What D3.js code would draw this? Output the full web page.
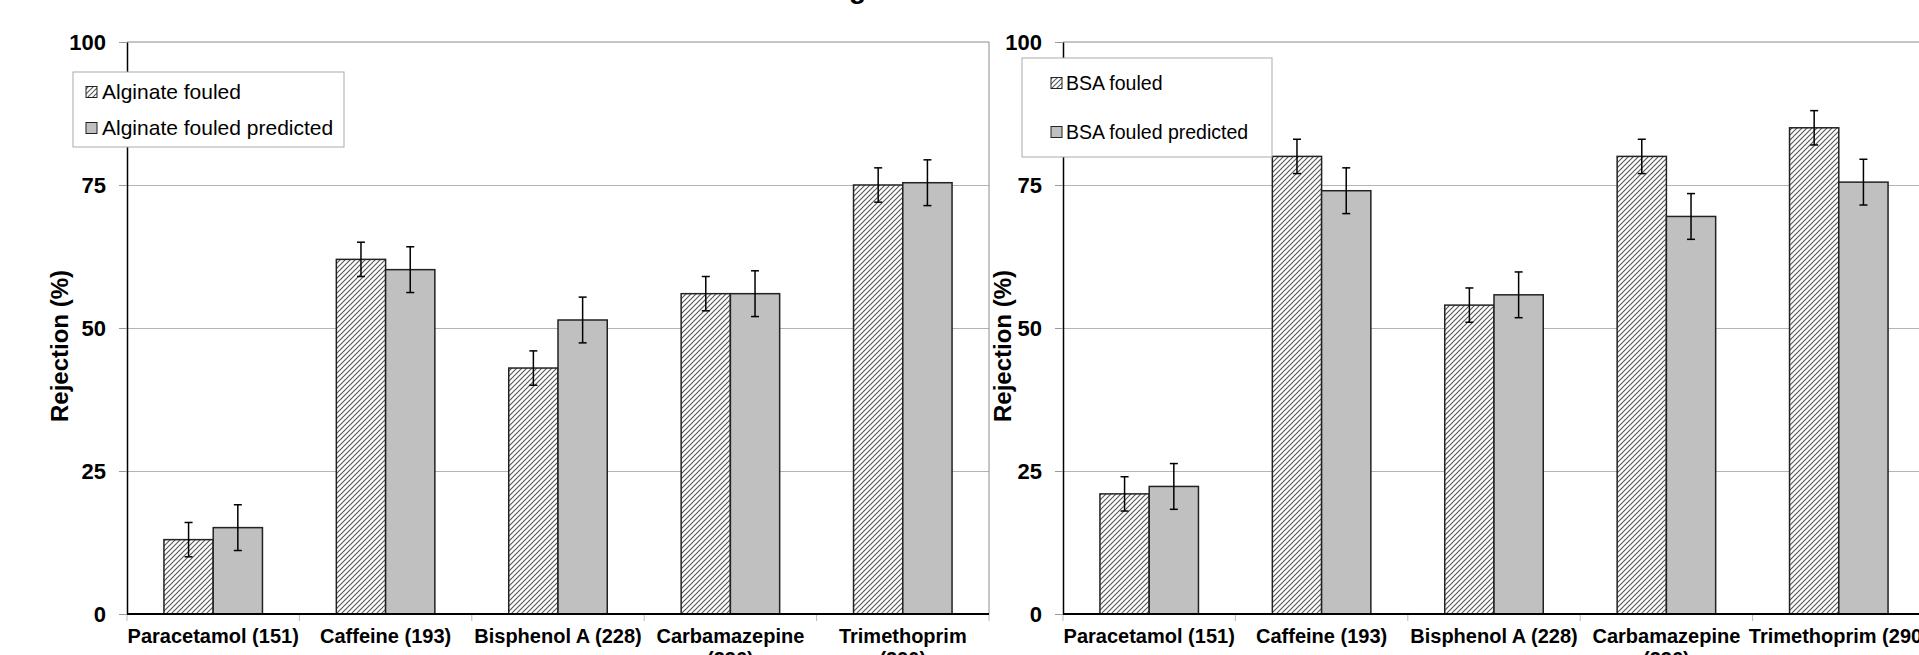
<!DOCTYPE html>
<html>
<head>
<meta charset="utf-8">
<script src="https://cdn.jsdelivr.net/npm/d3@7"></script>
<style>
  body { margin: 0; background: #fff; }
  svg { display: block; font-family: "Liberation Sans", Arial, sans-serif; }
</style>
</head>
<body>
<svg width="1919" height="655"></svg>
<script>
const svg = d3.select("svg");

// DATA
const categories = ["Paracetamol (151)", "Caffeine (193)", "Bisphenol A (228)", "Carbamazepine (236)", "Trimethoprim (290)"];
const yTicks = [0, 25, 50, 75, 100];

const alginateFouled = [13, 62, 43, 56, 75];
const alginatePredicted = [15.1, 60.2, 51.4, 56, 75.4];
const alginateFouledErr = [3, 3, 3, 3, 3];
const alginatePredictedErr = [4, 4, 4, 4, 4];

const bsaFouled = [21, 80, 54, 80, 85];
const bsaPredicted = [22.3, 74, 55.8, 69.5, 75.5];
const bsaFouledErr = [3, 3, 3, 3, 3];
const bsaPredictedErr = [4, 4, 4, 4, 4];

// CONSTANTS
const plotTop = 42;
const plotBottom = 614;
const plotWidth = 862;

const charts = [
  {
    left: 127, titleX: 60,
    names: ["Alginate fouled", "Alginate fouled predicted"],
    values: [alginateFouled, alginatePredicted],
    errors: [alginateFouledErr, alginatePredictedErr],
    wrapped: [3, 4],
    legend: { x: 73, y: 72, w: 271, h: 75, rows: [92, 128], swatchX: 13, textX: 29, font: 21 },
    rightBorder: true
  },
  {
    left: 1063, titleX: 1003,
    names: ["BSA fouled", "BSA fouled predicted"],
    values: [bsaFouled, bsaPredicted],
    errors: [bsaFouledErr, bsaPredictedErr],
    wrapped: [3],
    legend: { x: 1022, y: 58, w: 250, h: 99, rows: [83, 132], swatchX: 29, textX: 44, font: 19.5 },
    rightBorder: false
  }
];

// hatch pattern
const defs = svg.append("defs");
defs.append("pattern")
  .attr("id", "hatch")
  .attr("patternUnits", "userSpaceOnUse")
  .attr("width", 5).attr("height", 5)
  .call(p => p.append("rect").attr("width", 5).attr("height", 5).attr("fill", "#fff"))
  .append("path")
  .attr("d", "M-1,1 l2,-2 M0,5 l5,-5 M4,6 l2,-2")
  .attr("stroke", "#5a5a5a")
  .attr("stroke-width", 1.2);

const fills = ["url(#hatch)", "#c0c0c0"];

const yScale = d3.scaleLinear().domain([0, 100]).range([plotBottom, plotTop]);

// cut-off title above the charts
svg.append("text")
  .attr("x", 866).attr("y", -2)
  .attr("text-anchor", "end")
  .attr("font-size", 28).attr("font-weight", "bold")
  .text("Fouling");

function render(chart) {
  const x0 = chart.left, x1 = chart.left + plotWidth;
  const xScale = d3.scaleBand().domain(categories).range([x0, x1]);
  const barW = xScale.bandwidth() / 3.5;
  const series = d3.scaleBand().domain([0, 1]).range([-barW, barW]);

  const g = svg.append("g");

  // gridlines
  g.append("g")
    .attr("transform", `translate(${x0},0)`)
    .call(d3.axisLeft(yScale).tickValues([25, 50, 75]).tickSize(-plotWidth).tickFormat(""))
    .call(a => a.select(".domain").remove())
    .selectAll("line").attr("stroke", "#b4b4b4");

  // plot frame (top / right)
  g.append("line").attr("x1", x0).attr("x2", x1)
    .attr("y1", yScale(100)).attr("y2", yScale(100))
    .attr("stroke", "#8c8c8c");
  if (chart.rightBorder) {
    g.append("line").attr("x1", x1).attr("x2", x1)
      .attr("y1", yScale(100)).attr("y2", yScale(0))
      .attr("stroke", "#8c8c8c");
  }

  // y axis
  const yAxis = g.append("g")
    .attr("transform", `translate(${x0},0)`)
    .call(d3.axisLeft(yScale).tickValues(yTicks).tickSize(8).tickSizeOuter(0).tickPadding(13));
  yAxis.select(".domain").attr("stroke", "#000").attr("stroke-width", 1.5);
  yAxis.selectAll(".tick line").attr("stroke", "#999");
  yAxis.selectAll(".tick text")
    .attr("font-size", 22).attr("font-weight", "bold")
    .attr("font-family", "Liberation Sans, Arial, sans-serif")
    .attr("fill", "#000");

  // bars
  chart.values.forEach((vals, s) => {
    g.append("g").selectAll("rect")
      .data(categories)
      .join("rect")
      .attr("x", (d) => xScale(d) + xScale.bandwidth() / 2 + series(s))
      .attr("y", (d, i) => yScale(vals[i]))
      .attr("width", barW)
      .attr("height", (d, i) => yScale(0) - yScale(vals[i]))
      .attr("fill", fills[s])
      .attr("stroke", "#222")
      .attr("stroke-width", 1.5);
  });

  // error bars
  chart.values.forEach((vals, s) => {
    const errs = chart.errors[s];
    const eg = g.append("g").attr("stroke", "#000").attr("stroke-width", 1.5);
    categories.forEach((c, i) => {
      const cx = xScale(c) + xScale.bandwidth() / 2 + series(s) + barW / 2;
      const lo = yScale(vals[i] - errs[i]), hi = yScale(vals[i] + errs[i]);
      eg.append("line").attr("x1", cx).attr("x2", cx).attr("y1", lo).attr("y2", hi);
      eg.append("line").attr("x1", cx - 4).attr("x2", cx + 4).attr("y1", lo).attr("y2", lo);
      eg.append("line").attr("x1", cx - 4).attr("x2", cx + 4).attr("y1", hi).attr("y2", hi);
    });
  });

  // x axis: boundary ticks + baseline
  const bounds = categories.map(c => xScale(c)).concat([x1]);
  g.append("g").selectAll("line")
    .data(bounds)
    .join("line")
    .attr("x1", d => d).attr("x2", d => d)
    .attr("y1", yScale(0)).attr("y2", yScale(0) + 7)
    .attr("stroke", "#bbb");
  g.append("line").attr("x1", x0).attr("x2", x1)
    .attr("y1", yScale(0)).attr("y2", yScale(0))
    .attr("stroke", "#000").attr("stroke-width", 2);

  // category labels
  const labels = g.append("g")
    .attr("font-size", 20).attr("font-weight", "bold")
    .attr("text-anchor", "middle");
  categories.forEach((c, i) => {
    const t = labels.append("text")
      .attr("x", xScale(c) + xScale.bandwidth() / 2)
      .attr("y", 643);
    const lines = chart.wrapped.includes(i) ? c.split(" (").map((p, k) => k ? "(" + p : p) : [c];
    lines.forEach((ln, k) => {
      t.append("tspan")
        .attr("x", xScale(c) + xScale.bandwidth() / 2)
        .attr("dy", k ? 23 : 0)
        .text(ln);
    });
  });

  // y title
  g.append("text")
    .attr("transform", `translate(${chart.titleX + 8},346) rotate(-90)`)
    .attr("text-anchor", "middle")
    .attr("font-size", 24).attr("font-weight", "bold")
    .text("Rejection (%)");

  // legend
  const L = chart.legend;
  const lg = g.append("g");
  lg.append("rect")
    .attr("x", L.x).attr("y", L.y).attr("width", L.w).attr("height", L.h)
    .attr("fill", "#fff").attr("stroke", "#aaa");
  chart.names.forEach((name, s) => {
    const cy = L.rows[s];
    lg.append("rect")
      .attr("x", L.x + L.swatchX)
      .attr("y", cy - 5.5)
      .attr("width", 11).attr("height", 11)
      .attr("fill", fills[s]).attr("stroke", "#222");
    lg.append("text")
      .attr("x", L.x + L.textX)
      .attr("y", cy)
      .attr("dy", "0.35em")
      .attr("font-size", L.font)
      .text(name);
  });
}

charts.forEach(render);
</script>
</body>
</html>
